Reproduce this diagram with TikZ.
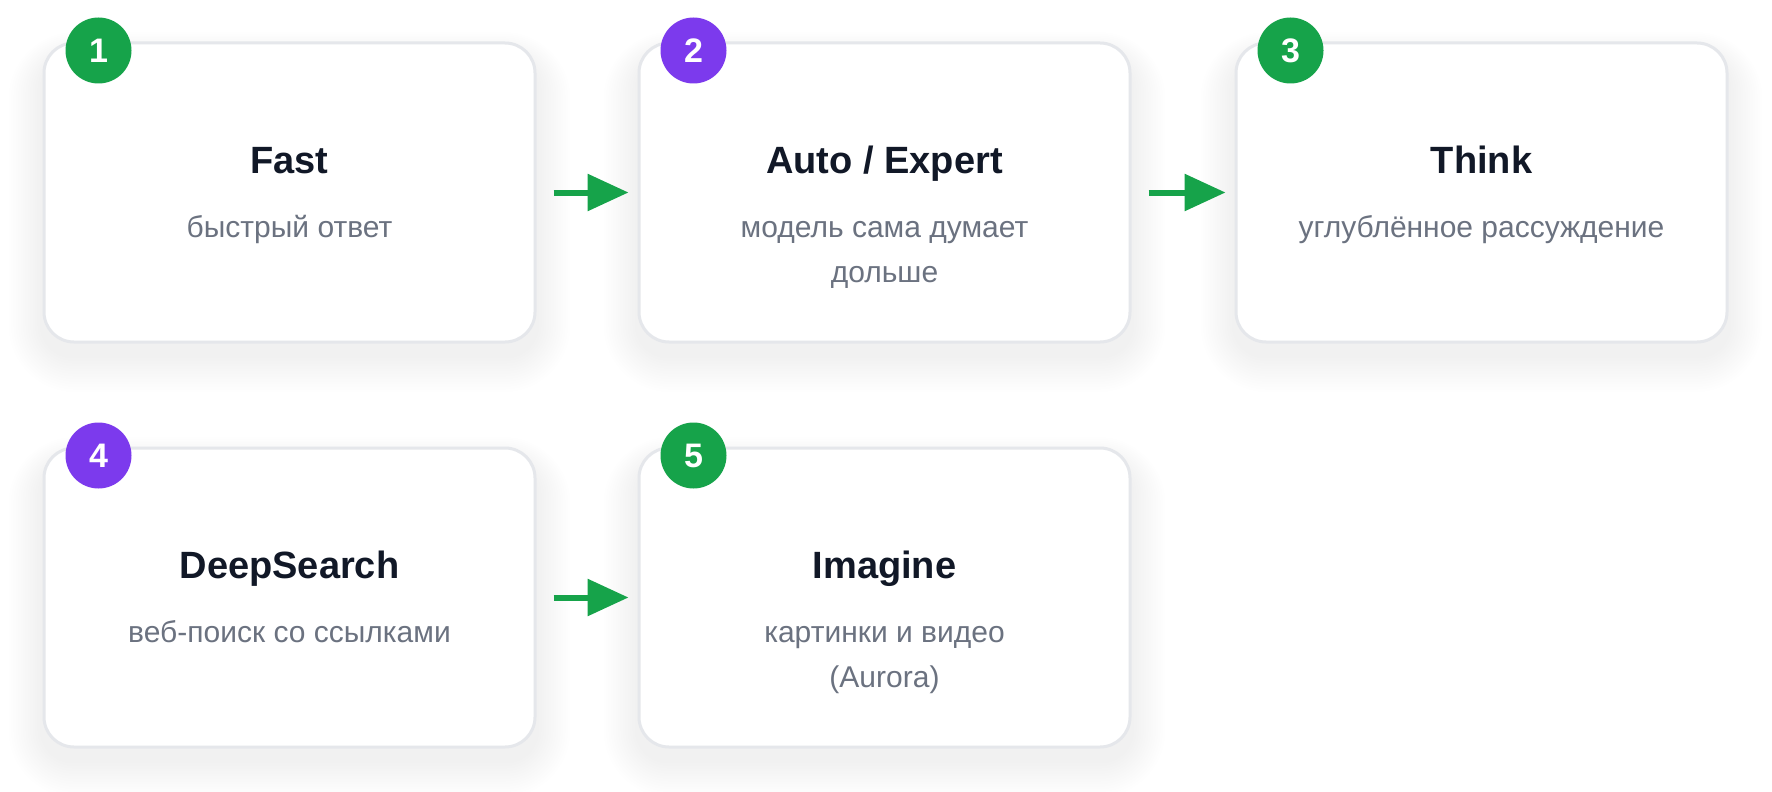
\documentclass[tikz,border=0pt]{standalone}
\usepackage{fontspec}
\setmainfont{Liberation Sans}
\usetikzlibrary{arrows.meta,backgrounds}
\definecolor{grn}{HTML}{16A34A}
\definecolor{prp}{HTML}{7C3AED}
\definecolor{titc}{HTML}{111827}
\definecolor{subc}{HTML}{6B7280}
\definecolor{bordc}{HTML}{E5E7EB}
\definecolor{shc}{HTML}{8A90A0}
\begin{document}
\begin{tikzpicture}[x=0.5pt,y=-0.5pt,
  card/.style={draw=bordc, line width=1.5pt, fill=white, rounded corners=15pt,
    minimum width=245.5pt, minimum height=149.5pt, inner sep=0pt},
  softshade/.style={fill=shc, fill opacity=0.009},
  badge/.style={circle, minimum size=33pt, inner sep=0pt, text=white,
    font=\bfseries\fontsize{17}{17}\selectfont},
  ttl/.style={anchor=base, text=titc, inner sep=0pt, font=\bfseries\fontsize{19}{19}\selectfont},
  sub/.style={anchor=base, text=subc, inner sep=0pt, font=\fontsize{15}{15}\selectfont},
  flow/.style={draw=grn, line width=3pt, -{Triangle[length=20.5pt,width=18pt]}}]
\useasboundingbox (0,0) rectangle (1772,792);
% cards
\node[card] (b1) at (289.5,192.5) {};
\node[card] (b2) at (884.5,192.5) {};
\node[card] (b3) at (1481.5,192.5) {};
\node[card] (b4) at (289.5,597.5) {};
\node[card] (b5) at (884.5,597.5) {};
% soft shadows behind the cards
\begin{scope}[on background layer]
  \fill[white] (0,0) rectangle (1772,792);
  \foreach \b in {b1,b2,b3,b4,b5} {
    \foreach \i [evaluate=\i as \r using 15+1.3*\i,
                 evaluate=\i as \d using 1.2*\i,
                 evaluate=\i as \t using 0.9*\i-8,
                 evaluate=\i as \u using -1.3*\i-6] in {1,...,14} {
      \fill[softshade, rounded corners=\r pt]
        ([xshift=-\d pt, yshift=\t pt]\b.north west) rectangle
        ([xshift=\d pt, yshift=\u pt]\b.south east);
    }
  }
\end{scope}
% badges
\path (b1.north west) ++(56,9) node[badge, fill=grn] (n1) {1};
\path (b2.north west) ++(56,9) node[badge, fill=prp] (n2) {2};
\path (b3.north west) ++(56,9) node[badge, fill=grn] (n3) {3};
\path (b4.north west) ++(56,9) node[badge, fill=prp] (n4) {4};
\path (b5.north west) ++(56,9) node[badge, fill=grn] (n5) {5};
% titles
\path (b1.north) ++(0,132) node[ttl] (t1) {Fast};
\path (b2.north) ++(0,132) node[ttl] (t2) {Auto / Expert};
\path (b3.north) ++(0,132) node[ttl] (t3) {Think};
\path (b4.north) ++(0,132) node[ttl] (t4) {DeepSearch};
\path (b5.north) ++(0,132) node[ttl] (t5) {Imagine};
% subtitles
\path (b1.north) ++(0,196) node[sub] (s1) {быстрый ответ};
\path (b2.north) ++(0,196) node[sub] (s2a) {модель сама думает};
\path (b2.north) ++(0,241) node[sub] (s2b) {дольше};
\path (b3.north) ++(0,196) node[sub] (s3) {углублённое рассуждение};
\path (b4.north) ++(0,196) node[sub] (s4) {веб-поиск со ссылками};
\path (b5.north) ++(0,196) node[sub] (s5a) {картинки и видео};
\path (b5.north) ++(0,241) node[sub] (s5b) {(Aurora)};
% arrows
\draw[flow] ([xshift=8.5pt]b1.east) -- ([xshift=-4.5pt]b2.west);
\draw[flow] ([xshift=8.5pt]b2.east) -- ([xshift=-4.5pt]b3.west);
\draw[flow] ([xshift=8.5pt]b4.east) -- ([xshift=-4.5pt]b5.west);
\end{tikzpicture}
\end{document}
